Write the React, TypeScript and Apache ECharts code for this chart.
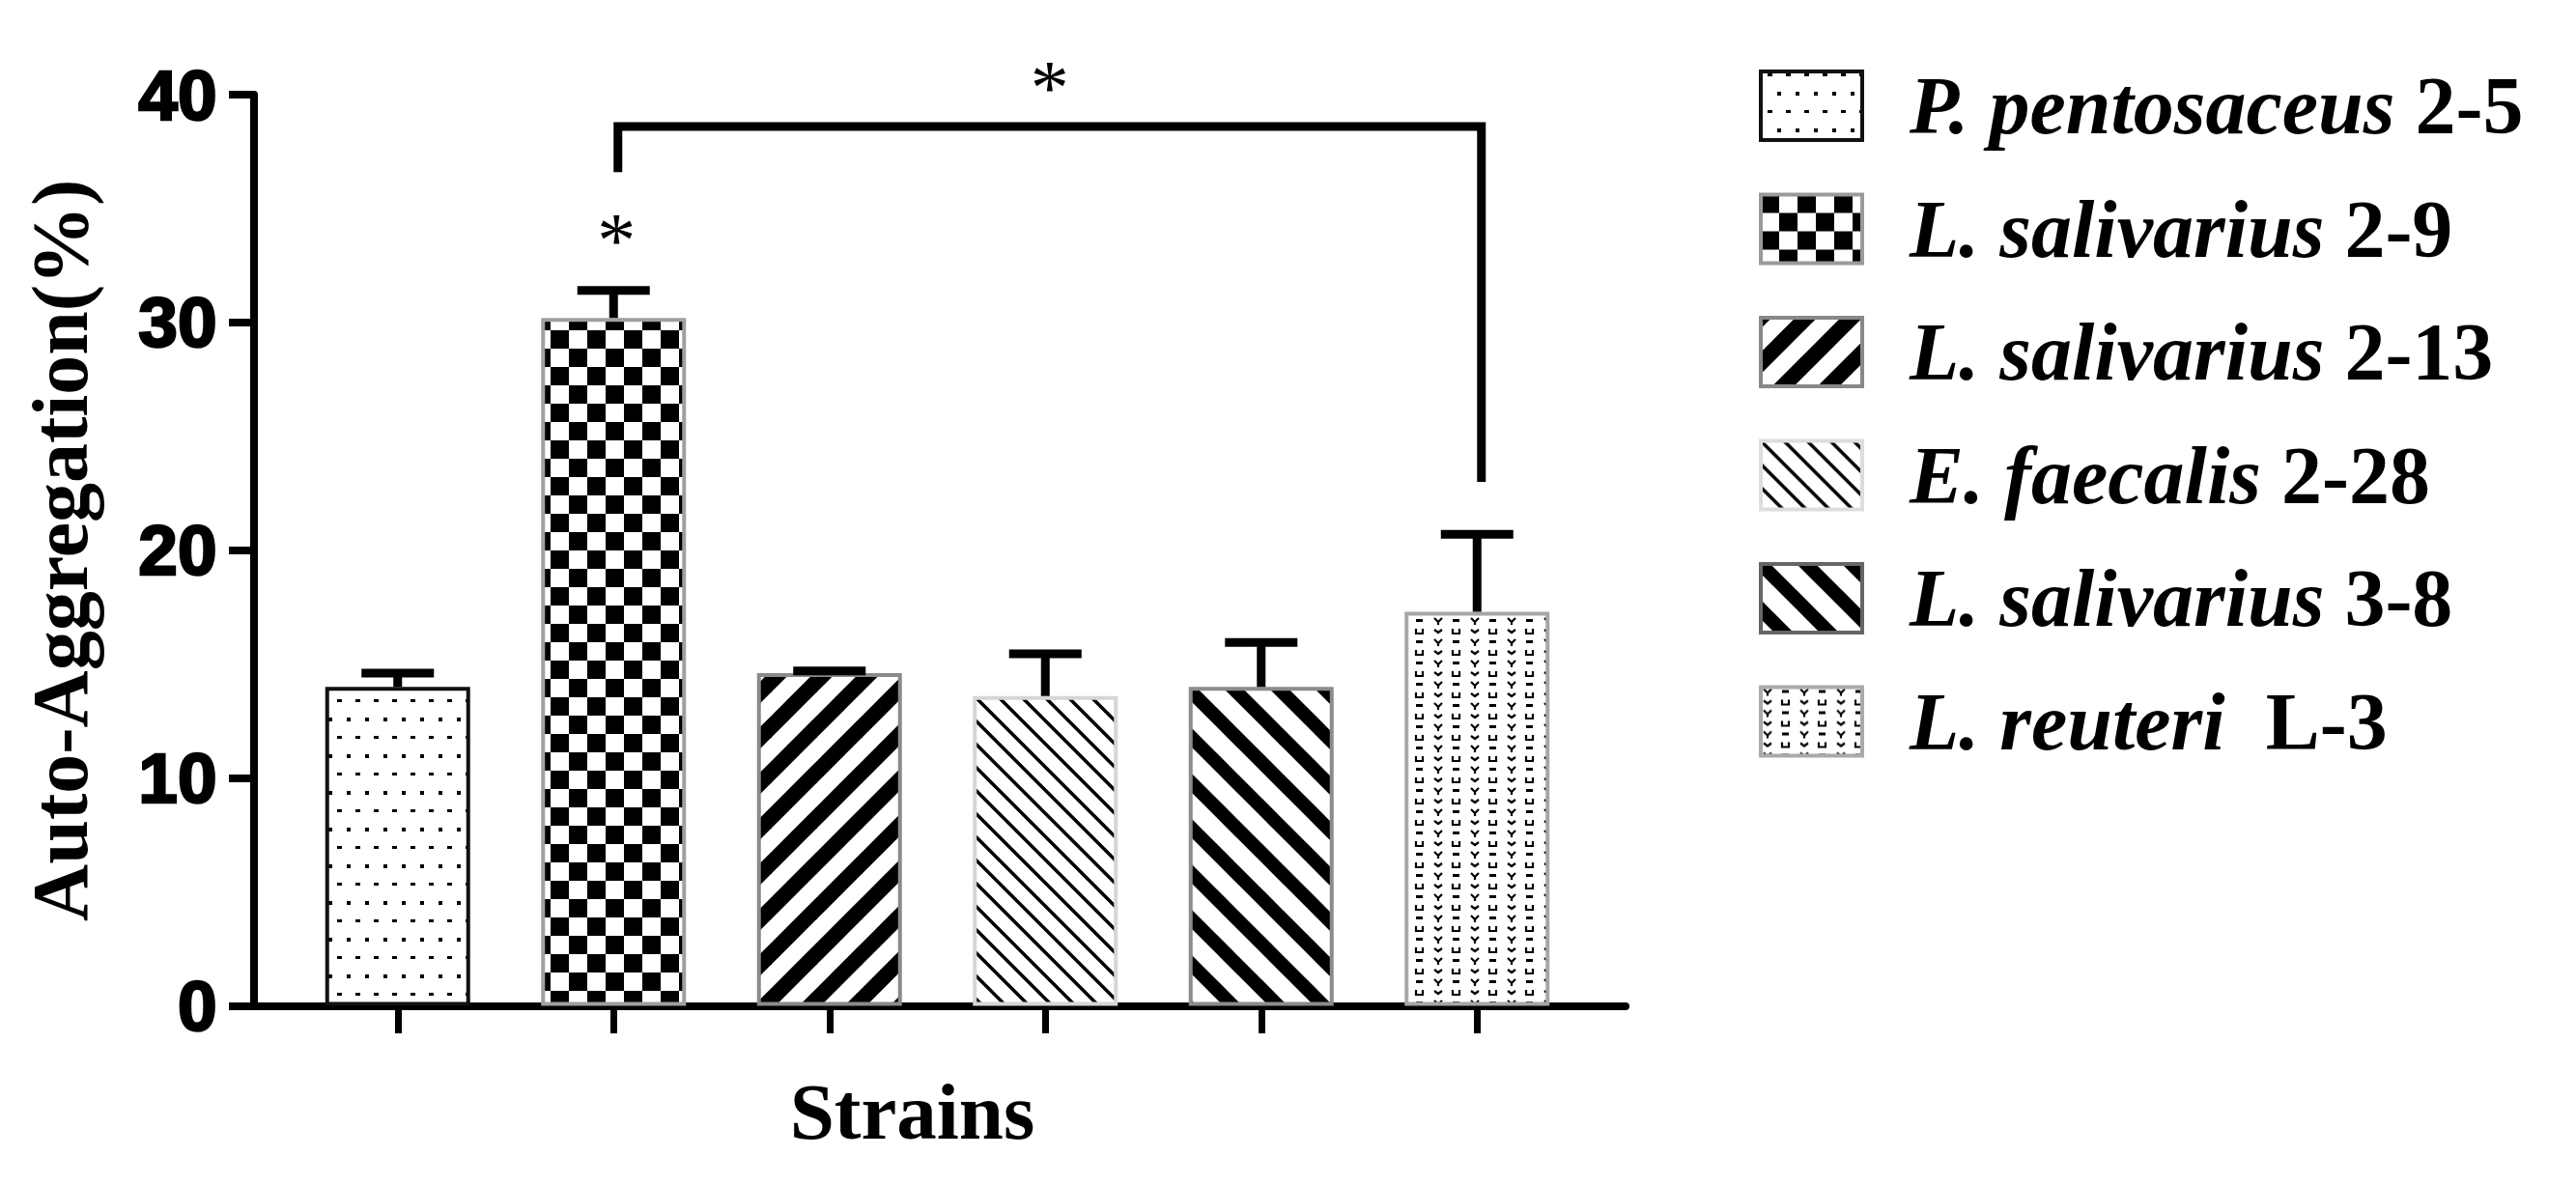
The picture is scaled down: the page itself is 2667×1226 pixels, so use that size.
import React, { useEffect, useRef } from 'react';
import * as echarts from 'echarts';

// ---------- data ----------
const strainNames = [
  'P. pentosaceus 2-5',
  'L. salivarius 2-9',
  'L. salivarius 2-13',
  'E. faecalis 2-28',
  'L. salivarius 3-8',
  'L. reuteri  L-3',
];
const speciesNames = ['P. pentosaceus', 'L. salivarius', 'L. salivarius', 'E. faecalis', 'L. salivarius', 'L. reuteri\u00a0'];
const strainCodes = ['2-5', '2-9', '2-13', '2-28', '3-8', 'L-3'];
const meanValues = [14.0, 30.2, 14.6, 13.6, 14.0, 17.3];
const errorValues = [0.6, 1.2, 0.1, 1.85, 1.95, 3.4];
const yTickValues = [0, 10, 20, 30, 40];
// significance bracket: from category 1 to category 5
const bracketCategories = [1, 5];
const bracketLevels = [36.6, 38.6, 23.0]; // left leg bottom, top bar, right leg bottom
const bracketStarValue = 40.3;
const barStars = [[1, 33.6]];

const SERIF = 'Liberation Serif';

type Pat = { image: string; repeat: string; imageWidth: number; imageHeight: number };

function tile(w: number, h: number, draw: (ctx: CanvasRenderingContext2D) => void): Pat {
  const c = document.createElement('canvas');
  c.width = w;
  c.height = h;
  const ctx = c.getContext('2d') as CanvasRenderingContext2D;
  ctx.fillStyle = '#ffffff';
  ctx.fillRect(0, 0, w, h);
  ctx.fillStyle = '#000000';
  ctx.strokeStyle = '#000000';
  draw(ctx);
  return { image: c.toDataURL(), repeat: 'repeat', imageWidth: w, imageHeight: h };
}

function fwdStripes(P: number, lw: number): Pat {
  return tile(P, P, (ctx) => {
    ctx.lineWidth = lw;
    for (let k = 0; k <= 2; k++) {
      const c = k * P;
      ctx.beginPath();
      ctx.moveTo(-P, c + P);
      ctx.lineTo(2 * P, c - 2 * P);
      ctx.stroke();
    }
  });
}

function backStripes(P: number, lw: number): Pat {
  return tile(P, P, (ctx) => {
    ctx.lineWidth = lw;
    for (let k = -1; k <= 1; k++) {
      const c = k * P;
      ctx.beginPath();
      ctx.moveTo(-P, -P - c);
      ctx.lineTo(2 * P, 2 * P - c);
      ctx.stroke();
    }
  });
}

function makePatterns(): Pat[] {
  const dots = tile(19, 38, (ctx) => {
    ctx.fillRect(7, 2, 5, 3);
    ctx.fillRect(0, 21, 2, 4);
    ctx.fillRect(17, 21, 2, 4);
  });
  const checker = tile(38, 38, (ctx) => {
    ctx.fillRect(0, 0, 19, 19);
    ctx.fillRect(19, 19, 19, 19);
  });
  const reuteri = tile(38, 22, (ctx) => {
    ctx.lineWidth = 2.2;
    ctx.beginPath();
    ctx.moveTo(3, 2);
    ctx.lineTo(7, 6);
    ctx.lineTo(11, 2);
    ctx.moveTo(7, 6);
    ctx.lineTo(7, 9);
    ctx.stroke();
    ctx.beginPath();
    ctx.moveTo(22, 13);
    ctx.lineTo(22, 18);
    ctx.lineTo(29, 18);
    ctx.lineTo(29, 13);
    ctx.stroke();
    ctx.beginPath();
    ctx.moveTo(3, 14);
    ctx.lineTo(7, 17);
    ctx.lineTo(11, 14);
    ctx.stroke();
    ctx.fillRect(22, 3, 7, 3);
  });
  return [dots, checker, fwdStripes(47, 16), backStripes(24, 3.5), backStripes(47, 14), reuteri];
}

export default function App() {
  const ref = useRef<HTMLDivElement>(null);

  useEffect(() => {
    const el = ref.current as HTMLDivElement;
    const chart = echarts.init(el, undefined, { renderer: 'svg' });
    const patterns = makePatterns();
    const barBorderColors = ['#111111', '#a0a0a0', '#8a8a8a', '#d6d6d6', '#8c8c8c', '#a6a6a6'];
    const legendBorderColors = ['#111111', '#9a9a9a', '#888888', '#dddddd', '#666666', '#aaaaaa'];

    const starStyle = {
      text: '*',
      fontSize: 80,
      fontFamily: SERIF,
      fill: '#000',
      align: 'center',
      verticalAlign: 'middle',
    };

    const barSeries = strainNames.map((name, i) => ({
      type: 'bar',
      name,
      xAxisIndex: 0,
      yAxisIndex: 0,
      barWidth: 150,
      barGap: '-100%',
      data: meanValues.map((v, j) => (j === i ? v : '-')),
      itemStyle: { color: patterns[i], borderColor: barBorderColors[i], borderWidth: 4 },
      emphasis: { disabled: true },
      z: 2,
    }));

    const errorSeries = {
      type: 'custom',
      name: 'errors',
      xAxisIndex: 0,
      yAxisIndex: 0,
      z: 4,
      clip: false,
      data: meanValues.map((m, i) => [i, m, errorValues[i]]),
      renderItem: (params: any, api: any) => {
        const x = api.value(0);
        const m = api.value(1);
        const e = api.value(2);
        const base = api.coord([x, m]);
        const top = api.coord([x, m + e]);
        const half = 37.5;
        return {
          type: 'group',
          children: [
            { type: 'line', shape: { x1: base[0], y1: base[1], x2: top[0], y2: top[1] }, style: { stroke: '#000', lineWidth: 9 } },
            { type: 'line', shape: { x1: top[0] - half, y1: top[1], x2: top[0] + half, y2: top[1] }, style: { stroke: '#000', lineWidth: 9 } },
          ],
        };
      },
    };

    const bracketSeries = {
      type: 'custom',
      name: 'bracket',
      xAxisIndex: 0,
      yAxisIndex: 0,
      z: 4,
      clip: false,
      data: [[bracketCategories[0], bracketCategories[1], bracketLevels[0], bracketLevels[1], bracketLevels[2], bracketStarValue]],
      renderItem: (params: any, api: any) => {
        const i1 = api.value(0);
        const i2 = api.value(1);
        const pL = api.coord([i1, api.value(2)]);
        const pT = api.coord([i1, api.value(3)]);
        const pR = api.coord([i2, api.value(4)]);
        const pS = api.coord([i1, api.value(5)]);
        const off = 4.5;
        const xL = pL[0] + off;
        const xR = pR[0] + off;
        const yT = pT[1];
        return {
          type: 'group',
          children: [
            {
              type: 'polyline',
              shape: { points: [[xL, pL[1]], [xL, yT], [xR, yT], [xR, pR[1]]] },
              style: { stroke: '#000', lineWidth: 9, fill: 'none', lineJoin: 'miter' },
            },
            { type: 'text', x: (xL + xR) / 2, y: pS[1], style: starStyle },
          ],
        };
      },
    };

    const starSeries = {
      type: 'custom',
      name: 'stars',
      xAxisIndex: 0,
      yAxisIndex: 0,
      z: 4,
      clip: false,
      data: barStars,
      renderItem: (params: any, api: any) => {
        const p = api.coord([api.value(0), api.value(1)]);
        return { type: 'text', x: p[0] + 3, y: p[1], style: starStyle };
      },
    };

    const legendFont = { fontFamily: SERIF, fontSize: 84, fontWeight: 'bold', color: '#000', lineHeight: 71 };

    chart.setOption({
      animation: false,
      backgroundColor: '#ffffff',
      textStyle: { fontFamily: SERIF },
      grid: [
        { left: 300, right: 1026, top: 98, bottom: 184.5 },
        { left: 258.5, right: 984, top: 98, bottom: 184.5 },
      ],
      legend: {
        orient: 'vertical',
        left: 1816,
        top: 62.5,
        icon: 'rect',
        itemWidth: 105,
        itemHeight: 71,
        itemGap: 43.5,
        selectedMode: false,
        data: strainNames.map((name, i) => ({
          name,
          itemStyle: { borderColor: legendBorderColors[i], borderWidth: 4 },
        })),
        formatter: (name: string) => {
          const i = strainNames.indexOf(name);
          return `{i|${speciesNames[i]}} {n|${strainCodes[i]}}`;
        },
        textStyle: {
          ...legendFont,
          rich: {
            i: { ...legendFont, fontStyle: 'italic', padding: [0, 0, 0, 44] },
            n: { ...legendFont, fontStyle: 'normal' },
          },
        },
      },
      xAxis: [
        {
          type: 'category',
          gridIndex: 0,
          data: strainNames,
          boundaryGap: true,
          axisLine: { show: false },
          axisTick: { show: true, alignWithLabel: true, length: 28.5, lineStyle: { color: '#000', width: 7 } },
          axisLabel: { show: false },
          splitLine: { show: false },
          name: 'Strains',
          nameLocation: 'middle',
          nameGap: 68,
          nameTextStyle: { fontFamily: SERIF, fontSize: 83, fontWeight: 'bold', color: '#000', padding: [0, 52, 0, 0] },
        },
        {
          type: 'value',
          gridIndex: 1,
          min: 0,
          max: 1,
          axisLine: { show: true, onZero: false, lineStyle: { color: '#000', width: 8 } },
          axisTick: { show: false },
          axisLabel: { show: false },
          splitLine: { show: false },
        },
      ],
      yAxis: [
        {
          type: 'value',
          gridIndex: 0,
          min: yTickValues[0],
          max: yTickValues[yTickValues.length - 1],
          interval: yTickValues[1] - yTickValues[0],
          offset: 37.5,
          axisLine: { show: true, lineStyle: { color: '#000', width: 8 } },
          axisTick: { show: true, length: 25.5, lineStyle: { color: '#000', width: 8 } },
          axisLabel: {
            margin: 38,
            color: '#000',
            fontFamily: 'Liberation Sans',
            fontWeight: 'bold',
            fontSize: 73,
            textBorderColor: '#000',
            textBorderWidth: 2.5,
          },
          splitLine: { show: false },
          name: 'Auto-Aggregation(%)',
          nameLocation: 'middle',
          nameRotate: 90,
          nameGap: 159,
          nameTextStyle: { fontFamily: SERIF, fontSize: 82, fontWeight: 'bold', color: '#000' },
        },
        {
          type: 'value',
          gridIndex: 1,
          show: false,
          min: 0,
          max: 1,
        },
      ],
      series: [...barSeries, errorSeries, bracketSeries, starSeries],
    });

    return () => {
      chart.dispose();
    };
  }, []);

  return (
    <div
      ref={ref}
      style={{ position: 'fixed', left: 0, top: 0, width: 2667, height: 1226, background: '#ffffff' }}
    />
  );
}
